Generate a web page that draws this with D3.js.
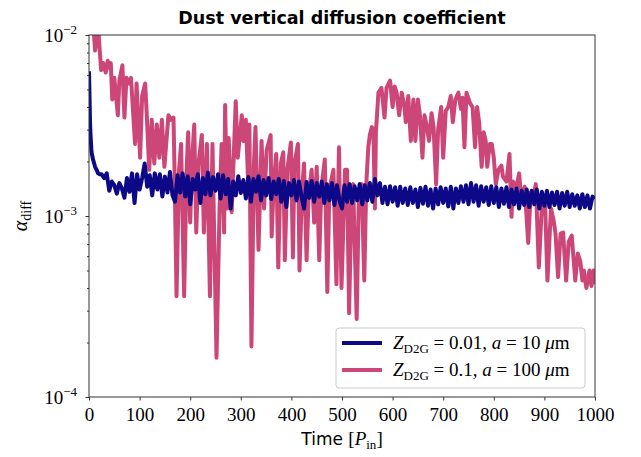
<!DOCTYPE html>
<html lang="en">
<head>
<meta charset="UTF-8">
<script src="https://d3js.org/d3.v7.min.js"></script>
<title>Dust vertical diffusion coefficient</title>
<style>
  body { margin: 0; background: #fff; }
  .axis path, .axis line { stroke: #333; }
</style>
</head>
<body>
<svg id="chart" width="641" height="457"></svg>
<script>
// ---- data (values in units of 1e-3) ----
var blueTime = [0, 1, 2, 3, 5, 8, 12, 15, 18, 21,
  25, 30, 35, 40, 45, 50, 55, 60, 65, 70, 75, 80, 85, 90, 95, 100, 105, 110, 115, 120,
  125, 130, 135, 140, 145, 150, 155, 160, 165, 170, 175, 180, 185, 190, 195, 200, 205, 210, 215, 220,
  225, 230, 235, 240, 245, 250, 255, 260, 265, 270, 275, 280, 285, 290, 295, 300, 305, 310, 315, 320,
  325, 330, 335, 340, 345, 350, 355, 360, 365, 370, 375, 380, 385, 390, 395, 400, 405, 410, 415, 420,
  425, 430, 435, 440, 445, 450, 455, 460, 465, 470, 475, 480, 485, 490, 495, 500, 505, 510, 515, 520,
  525, 530, 535, 540, 545, 550, 555, 560, 565, 570, 575, 580, 585, 590, 595, 600, 605, 610, 615, 620,
  625, 630, 635, 640, 645, 650, 655, 660, 665, 670, 675, 680, 685, 690, 695, 700, 705, 710, 715, 720,
  725, 730, 735, 740, 745, 750, 755, 760, 765, 770, 775, 780, 785, 790, 795, 800, 805, 810, 815, 820,
  825, 830, 835, 840, 845, 850, 855, 860, 865, 870, 875, 880, 885, 890, 895, 900, 905, 910, 915, 920,
  925, 930, 935, 940, 945, 950, 955, 960, 965, 970, 975, 980, 985, 990, 995, 1000];
var blueVal = [6.3, 4.6, 3.3, 2.8, 2.25, 2.05, 1.87, 1.80, 1.72, 1.70,
  1.70, 1.62, 1.72, 1.38, 1.55, 1.48, 1.33, 1.52, 1.42, 1.26, 1.62, 1.36, 1.72, 1.18, 1.70, 1.40, 1.62, 1.95, 1.45, 1.68,
  1.30, 1.72, 1.40, 1.70, 1.28, 1.65, 1.35, 1.75, 1.30, 1.20, 1.68, 1.35, 1.72, 1.28, 1.66, 1.16, 1.60, 1.40, 1.70, 1.18,
  1.62, 1.32, 1.74, 1.30, 1.64, 1.38, 1.70, 1.25, 1.68, 1.32, 1.60, 1.10, 1.55, 1.30, 1.66, 1.34, 1.58, 1.25, 1.64, 1.20,
  1.60, 1.36, 1.66, 1.22, 1.58, 1.30, 1.62, 1.24, 1.55, 1.32, 1.60, 1.20, 1.56, 1.12, 1.52, 1.30, 1.58, 1.22, 1.55, 1.28,
  1.10, 1.54, 1.26, 1.56, 1.20, 1.52, 1.28, 1.55, 1.18, 1.50, 1.22, 1.52, 1.15, 1.48, 1.22, 1.10, 1.48, 1.20, 1.50, 1.18,
  1.46, 1.22, 1.50, 1.16, 1.48, 1.22, 1.52, 1.20, 1.60, 1.30, 1.52, 1.18, 1.45, 1.16, 1.46, 1.20, 1.44, 1.14, 1.45, 1.18,
  1.42, 1.15, 1.44, 1.18, 1.40, 1.12, 1.43, 1.17, 1.45, 1.14, 1.40, 1.10, 1.42, 1.16, 1.44, 1.18, 1.42, 1.13, 1.45, 1.10,
  1.42, 1.18, 1.46, 1.20, 1.48, 1.16, 1.52, 1.20, 1.48, 1.14, 1.46, 1.20, 1.44, 1.15, 1.46, 1.18, 1.44, 1.12, 1.42, 1.17,
  1.44, 1.12, 1.40, 1.16, 1.42, 1.10, 1.38, 1.15, 1.40, 1.12, 1.38, 1.16, 1.40, 1.10, 1.36, 1.14, 1.38, 1.12, 1.35, 1.15,
  1.36, 1.10, 1.34, 1.14, 1.36, 1.12, 1.32, 1.14, 1.30, 1.10, 1.32, 1.12, 1.30, 1.10, 1.28, 1.25];

var pinkTime = [0, 8, 12, 18, 24, 28, 33, 37, 40, 43,
  46, 50, 57, 60, 66, 70, 74, 79, 83, 91,
  94, 101, 105, 111, 114, 119, 124, 129, 134, 139,
  144, 149, 157, 162, 167, 169, 173, 178, 182, 188,
  193, 196, 200, 204, 208, 212, 216, 223, 227, 233,
  239, 244, 252, 258, 262, 267, 269, 273, 276, 282,
  290, 294, 302, 305, 310, 315, 317, 321, 326, 329,
  335, 341, 346, 351, 359, 361, 365, 370, 374, 379,
  384, 387, 392, 399, 403, 406, 413, 416, 421, 425,
  430, 434, 440, 445, 450, 455, 459, 466, 471, 475,
  483, 489, 494, 499, 506, 510, 514, 519, 522, 529,
  533, 539, 544, 548, 552, 555, 559, 562, 565, 567,
  572, 578, 584, 588, 595, 600, 604, 608, 613, 618,
  623, 626, 631, 636, 641, 645, 650, 654, 659, 663,
  668, 672, 677, 681, 686, 690, 696, 700, 705, 710,
  715, 719, 724, 730, 735, 738, 742, 746, 753, 758,
  763, 767, 771, 776, 780, 784, 787, 792, 796, 800,
  804, 809, 815, 818, 825, 831, 835, 838, 845, 850,
  855, 861, 868, 873, 879, 883, 889, 895, 901, 906,
  913, 918, 922, 927, 932, 937, 943, 948, 954, 961,
  966, 971, 975, 978, 983, 989, 993, 997, 1000];
var pinkVal = [20, 12, 8.2, 11, 6.4, 7.0, 6.2, 7.2, 6.6, 7.0,
  4.4, 5.8, 3.6, 5.6, 6.8, 3.5, 5.8, 5.4, 5.8, 2.5,
  5.4, 2.1, 4.6, 5.4, 3.7, 1.8, 3.4, 1.95, 3.2, 2.1,
  3.4, 1.87, 3.6, 3.4, 3.5, 1.8, 0.36, 1.8, 2.5, 0.36,
  1.8, 2.9, 0.92, 2.1, 3.2, 0.81, 1.9, 2.8, 0.81, 2.5,
  0.36, 2.5, 0.165, 1.1, 2.5, 0.81, 4.1, 1.1, 2.7, 1.05,
  4.3, 2.1, 3.6, 2.6, 3.4, 1.4, 3.2, 0.19, 1.95, 3.1,
  0.65, 2.6, 1.1, 2.3, 2.8, 0.77, 1.5, 2.2, 0.52, 1.95,
  2.25, 0.57, 1.8, 2.55, 0.59, 1.95, 2.5, 0.50, 1.4, 1.95,
  0.57, 1.3, 1.8, 0.92, 1.87, 0.57, 1.4, 2.05, 0.38, 1.4,
  1.8, 0.42, 2.4, 0.40, 1.8, 1.8, 0.29, 1.3, 1.5, 0.27,
  1.15, 1.5, 0.44, 1.5, 2.4, 2.8, 3.1, 3.0, 1.1, 2.9,
  4.8, 5.1, 3.5, 5.1, 5.6, 4.0, 5.2, 4.8, 3.6, 4.8,
  4.1, 3.3, 4.6, 2.6, 4.4, 2.6, 4.4, 3.6, 2.1, 3.6,
  3.1, 2.6, 3.7, 3.1, 1.5, 3.0, 4.0, 2.1, 3.8, 4.0,
  4.6, 3.3, 4.4, 4.8, 3.9, 4.5, 2.4, 4.8, 4.2, 4.0,
  2.4, 4.0, 3.3, 1.87, 2.9, 2.6, 1.87, 2.5, 2.5, 2.1,
  1.5, 1.8, 1.9, 1.65, 1.55, 2.2, 0.99, 1.55, 1.45, 1.72,
  1.2, 1.45, 0.71, 1.35, 1.3, 1.5, 0.52, 1.15, 1.27, 0.44,
  1.1, 0.95, 0.8, 0.46, 0.8, 0.81, 0.44, 0.72, 0.78, 0.44,
  0.62, 0.56, 0.44, 0.5, 0.40, 0.5, 0.41, 0.50, 0.42];

var xTicks = [0, 100, 200, 300, 400, 500, 600, 700, 800, 900, 1000];
var yMajor = [1e-4, 1e-3, 1e-2];
var yExponents = ["\u22124", "\u22123", "\u22122"];

var blueColor = "#0d0887";
var pinkColor = "#cc4778";
var serif = '"Liberation Serif", "DejaVu Serif", serif';

// ---- layout ----
var svg = d3.select('#chart');
var margin = {left: 89, top: 35, right: 46, bottom: 60};
var width = 641 - margin.left - margin.right;
var height = 457 - margin.top - margin.bottom;
var g = svg.append('g').attr('transform', 'translate(' + margin.left + ',' + margin.top + ')');

var x = d3.scaleLinear().domain([0, 1000]).range([0, width]);
var y = d3.scaleLog().domain([1e-4, 1e-2]).range([height, 0]);

svg.append('defs').append('clipPath').attr('id', 'clip')
  .append('rect').attr('width', width).attr('height', height);

// series
var blue = blueTime.map((t, i) => ({t: t, v: blueVal[i] * 1e-3}));
var pink = pinkTime.map((t, i) => ({t: t, v: pinkVal[i] * 1e-3}));

var line = d3.line().x(d => x(d.t)).y(d => y(d.v));

var lines = g.append('g').attr('clip-path', 'url(#clip)');
lines.append('path').datum(pink)
  .attr('d', line).attr('fill', 'none').attr('stroke', pinkColor)
  .attr('stroke-width', 4).attr('stroke-linejoin', 'round');
lines.append('path').datum(blue)
  .attr('d', line).attr('fill', 'none').attr('stroke', blueColor)
  .attr('stroke-width', 4).attr('stroke-linejoin', 'round');

// x axis
var xAxis = g.append('g').attr('class', 'axis')
  .attr('transform', 'translate(0,' + height + ')')
  .call(d3.axisBottom(x).tickValues(xTicks).tickSize(3.5).tickSizeOuter(0).tickFormat(d3.format('d')));
xAxis.select('.domain').remove();
xAxis.attr('font-family', serif).attr('font-size', 19);
xAxis.selectAll('text').attr('fill', '#000').attr('y', 7).attr('dy', '0.9em');

// y axis: minor ticks
var yMinor = y.ticks().filter(v => yMajor.indexOf(v) < 0);
var yMin = g.append('g').attr('class', 'axis')
  .call(d3.axisLeft(y).tickValues(yMinor).tickSize(2).tickFormat(''));
yMin.select('.domain').remove();

var yAx = g.append('g').attr('class', 'axis')
  .call(d3.axisLeft(y).tickValues(yMajor).tickSize(3.5).tickFormat(''));
yAx.select('.domain').remove();
yAx.attr('font-family', serif).attr('font-size', 19);
yAx.selectAll('.tick').each(function(d, i) {
  var t = d3.select(this).append('text')
    .attr('fill', '#000').attr('text-anchor', 'end')
    .attr('x', -12).attr('y', 6);
  t.append('tspan').text('10');
  t.append('tspan').attr('font-size', 13).attr('dy', -8).text(yExponents[i]);
});

// frame
g.append('rect').attr('width', width).attr('height', height)
  .attr('fill', 'none').attr('stroke', '#333').attr('stroke-width', 1);

// title
g.append('text').attr('x', width / 2).attr('y', -11)
  .attr('text-anchor', 'middle')
  .attr('font-family', '"DejaVu Sans", sans-serif').attr('font-weight', 'bold')
  .attr('font-size', 17.5).text('Dust vertical diffusion coefficient');

// x label
var xl = g.append('text').attr('x', width / 2).attr('y', height + 48)
  .attr('text-anchor', 'middle').attr('font-size', 17);
xl.append('tspan').attr('font-family', '"DejaVu Sans", sans-serif').text('Time ');
xl.append('tspan').attr('font-family', serif).attr('font-size', 19).text('[');
xl.append('tspan').attr('font-family', serif).attr('font-size', 19).attr('font-style', 'italic').text('P');
xl.append('tspan').attr('font-family', serif).attr('font-size', 13).attr('dy', 4).text('in');
xl.append('tspan').attr('font-family', serif).attr('font-size', 19).attr('dy', -4).text(']');

// y label
var yl = g.append('text')
  .attr('transform', 'translate(-62,' + (height / 2) + ') rotate(-90)')
  .attr('text-anchor', 'middle').attr('font-family', serif);
yl.append('tspan').attr('font-size', 20).attr('font-style', 'italic').text('\u03b1');
yl.append('tspan').attr('font-size', 14).attr('dy', 4).text('diff');

// legend
var legendItems = [
  {color: blueColor, z: '0.01', a: '10'},
  {color: pinkColor, z: '0.1', a: '100'}
];
var lg = g.append('g').attr('transform', 'translate(' + (width - 259) + ',' + (height - 69) + ')');
lg.append('rect').attr('width', 249).attr('height', 60).attr('rx', 3)
  .attr('fill', '#fff').attr('fill-opacity', 0.8).attr('stroke', '#ccc');
legendItems.forEach(function(d, i) {
  var ly = 15 + i * 27;
  lg.append('line').attr('x1', 6).attr('x2', 46).attr('y1', ly).attr('y2', ly)
    .attr('stroke', d.color).attr('stroke-width', 4);
  var t = lg.append('text').attr('font-family', serif).attr('x', 57).attr('y', ly + 6).attr('font-size', 19);
  t.append('tspan').attr('font-style', 'italic').text('Z');
  t.append('tspan').attr('font-size', 13).attr('dy', 4).text('D2G');
  t.append('tspan').attr('dy', -4).text(' = ' + d.z + ', ');
  t.append('tspan').attr('font-style', 'italic').text('a');
  t.append('tspan').text(' = ' + d.a + ' ');
  t.append('tspan').attr('font-style', 'italic').text('\u03bc');
  t.append('tspan').text('m');
});
</script>
</body>
</html>
